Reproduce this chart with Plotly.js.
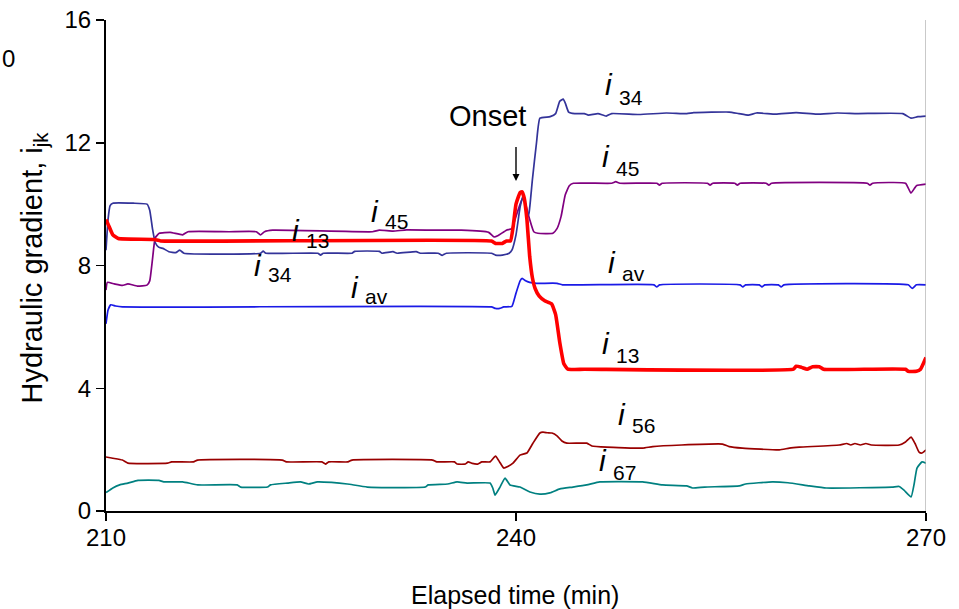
<!DOCTYPE html>
<html>
<head>
<meta charset="utf-8">
<script src="https://cdn.plot.ly/plotly-3.0.1.min.js"></script>
<style>html,body{margin:0;padding:0;background:#fff;}#chart{width:959px;height:609px;}</style>
</head>
<body>
<div id="chart"></div>
<script>
// ---- data (elapsed time in min, hydraulic gradient) ----
const t34 = [210,210.15,210.3,210.5,212,213.0,213.2,213.4,213.6,213.85,214.2,214.6,215.1,215.4,215.7,221.3,221.5,221.7,225.5,225.7,225.9,228.0,228.2,230.0,230.2,231.0,231.3,232.7,233.0,234.3,234.6,234.9,238.2,238.5,239.0,239.5,239.7,240.0,240.3,240.5,240.65,240.8,240.95,241.2,241.5,241.75,242.5,242.9,243.2,243.45,243.6,243.85,244.3,245.0,245.3,246.0,246.6,247.0,249.0,251.0,252.5,253.0,255.6,256.3,257.0,257.6,259.0,260.5,262.0,263.5,265.0,268.3,268.9,269.4,270];
const i34 = [8.5,9.5,9.95,10.03,10.03,10.0,9.8,9.2,8.75,8.6,8.55,8.45,8.42,8.5,8.4,8.4,8.47,8.4,8.4,8.34,8.4,8.4,8.46,8.46,8.4,8.45,8.4,8.45,8.4,8.4,8.33,8.4,8.4,8.34,8.34,8.4,8.5,9.0,9.9,10.25,10.1,9.55,9.7,10.8,12.0,12.8,12.85,12.95,13.35,13.42,13.3,13.0,12.95,12.95,12.9,12.95,12.87,12.95,12.92,12.97,12.95,12.98,13.0,12.95,12.9,12.97,12.93,12.98,12.93,12.97,12.95,12.95,12.8,12.85,12.87];

const t45 = [210,210.1,210.6,211.2,211.6,212.3,213.0,213.2,213.4,213.6,213.9,214.7,215.6,216.0,219.0,221.0,221.3,221.6,222.2,229.5,230.0,231.0,232.0,234.0,236.0,238.0,238.4,238.7,239.3,239.7,240.0,240.3,240.5,240.7,241.0,241.3,241.6,242.7,243.0,243.3,243.6,243.9,244.2,247.0,247.3,247.6,250.3,250.5,250.7,254.0,254.2,254.4,256.0,256.2,256.4,258.3,258.5,258.7,265.7,265.9,266.1,268.5,268.9,269.3,270];
const i45 = [7.2,7.45,7.4,7.35,7.4,7.33,7.36,7.5,8.2,8.9,9.05,9.08,9.0,9.1,9.1,9.1,9.0,9.1,9.15,9.1,9.15,9.12,9.16,9.15,9.15,9.08,8.93,8.98,9.15,9.2,9.6,10.0,10.2,10.0,9.5,9.1,9.05,9.05,9.2,9.6,10.3,10.6,10.68,10.68,10.73,10.68,10.68,10.62,10.68,10.68,10.62,10.68,10.68,10.62,10.68,10.68,10.62,10.68,10.68,10.62,10.68,10.68,10.36,10.6,10.65];

const t13 = [210,210.2,210.5,210.9,213.5,214.0,238.2,238.5,239.0,239.3,239.6,239.8,240.0,240.3,240.45,240.6,240.8,241.0,241.2,241.4,241.7,242.1,242.6,242.9,243.2,243.5,243.8,245.0,260.3,260.5,260.9,261.3,261.7,262.2,262.5,268.5,268.7,269.3,269.6,270];
const i13 = [9.5,9.3,9.0,8.88,8.85,8.8,8.8,8.72,8.72,8.8,8.8,9.3,10.0,10.38,10.4,10.2,9.5,8.3,7.6,7.25,7.0,6.85,6.75,6.4,5.5,4.8,4.62,4.62,4.62,4.72,4.68,4.62,4.7,4.7,4.62,4.62,4.55,4.55,4.62,5.0];

const tav = [210,210.15,210.35,210.7,211.2,238.2,238.5,238.8,239.1,239.7,240.0,240.3,240.45,240.7,241.0,241.5,243.0,243.4,250.1,250.3,250.5,256.4,256.6,256.8,257.8,258.0,258.2,259.2,259.4,259.6,268.7,269.0,269.3,270];
const iav = [6.1,6.55,6.72,6.68,6.65,6.65,6.6,6.6,6.65,6.67,7.1,7.5,7.58,7.5,7.45,7.42,7.42,7.37,7.37,7.3,7.37,7.37,7.3,7.37,7.37,7.3,7.37,7.37,7.3,7.37,7.37,7.25,7.37,7.37];

const t56 = [210,210.5,211.2,211.6,214.5,214.8,216.4,216.7,222.9,223.2,225.8,226.06,226.3,227.7,228.0,233.9,234.2,235.5,235.7,236.3,236.5,236.8,237.2,237.5,238.1,238.5,238.8,239.1,239.4,239.78,240.29,240.8,241.24,241.75,241.97,242.3,242.63,243.0,243.36,243.72,245.18,245.55,246.64,249.27,250.0,252.12,255.11,255.6,256.57,259.27,260.0,260.73,263.65,264.2,264.5,264.8,265.2,265.6,266.0,268.03,268.5,268.91,269.2,269.49,269.71,270];
const i56 = [1.76,1.72,1.66,1.56,1.56,1.6,1.6,1.66,1.66,1.6,1.6,1.53,1.6,1.6,1.66,1.66,1.6,1.6,1.53,1.53,1.6,1.55,1.53,1.6,1.6,1.79,1.6,1.4,1.45,1.56,1.82,1.89,2.21,2.54,2.57,2.55,2.54,2.45,2.28,2.21,2.21,2.12,2.08,2.05,2.1,2.15,2.18,2.1,2.05,1.99,2.05,2.08,2.15,2.2,2.15,2.2,2.15,2.2,2.15,2.15,2.25,2.41,2.2,1.92,1.89,1.99];

const t67 = [210,210.5,211.0,211.6,212.34,213.87,214.23,215.6,216.72,219.6,219.85,221.82,222.04,223.28,224.23,224.82,225.47,226.5,227.66,229.12,233.36,233.58,235.0,235.69,236.42,238.1,238.3,238.47,238.83,239.2,239.56,240.29,241.02,241.75,242.48,243.21,244.16,245.18,246.13,249.27,250.73,252.48,252.92,253.8,256.35,256.8,258.76,259.9,261.46,262.7,267.52,268.03,268.39,268.91,269.12,269.34,269.71,270];
const i67 = [0.6,0.75,0.85,0.91,1.0,1.0,0.95,0.95,0.85,0.85,0.78,0.78,0.85,0.91,0.95,0.88,0.95,0.93,0.88,0.78,0.78,0.85,0.88,0.95,0.91,0.91,0.75,0.52,0.78,1.07,0.85,0.78,0.62,0.55,0.59,0.72,0.78,0.85,0.95,0.95,0.85,0.82,0.75,0.78,0.82,0.88,0.95,0.92,0.82,0.75,0.78,0.8,0.68,0.46,0.85,1.4,1.6,1.56];

const xTicks = [210, 240, 270];
const yTicks = [0, 4, 8, 12, 16];

// label texts (subscripts of the italic "i")
const seriesLabels = {i34:'34', i45:'45', i13:'13', iav:'av', i56:'56', i67:'67'};

// ---- layout geometry ----
const W = 959, H = 609;
const M = {l: 105.5, r: 33, t: 20, b: 98};
const FONT = '"Liberation Sans", Arial, sans-serif';
const pw = W - M.l - M.r, ph = H - M.t - M.b;
const px2x = px => 210 + (px - M.l) * 60 / pw;
const py2y = py => (H - M.b - py) * 16 / ph;

function line(x, y, color, width) {
  return {x: x, y: y, type: 'scatter', mode: 'lines', hoverinfo: 'skip',
          line: {color: color, width: width, shape: 'spline', smoothing: 0.4}};
}
const traces = [
  line(t67, i67, '#008080', 1.7),
  line(t56, i56, '#990000', 1.7),
  line(tav, iav, '#1a1ae6', 1.7),
  line(t45, i45, '#800080', 1.7),
  line(t34, i34, '#333399', 1.7),
  line(t13, i13, '#ff0000', 3.6)
];

// italic "i" plus a separate subscript annotation
function lab(key, px, pyI, pyS) {
  return [
    {xref: 'x', yref: 'y', x: px2x(px - 3), y: py2y(pyI), xanchor: 'left', yanchor: 'middle',
     showarrow: false, text: '<i>i</i>', font: {family: FONT, size: 30, color: '#000'}},
    {xref: 'x', yref: 'y', x: px2x(px + 11), y: py2y(pyS), xanchor: 'left', yanchor: 'middle',
     showarrow: false, text: seriesLabels[key], font: {family: FONT, size: 21, color: '#000'}}
  ];
}
const annotations = [].concat(
  lab('i34', 606, 84, 97), lab('i45', 603, 156, 168), lab('iav', 609, 262, 273),
  lab('i13', 603, 343, 355), lab('i56', 619, 414, 425), lab('i67', 600, 460, 472),
  lab('i45', 372, 211, 221), lab('i13', 293, 230, 240), lab('i34', 255, 265, 274),
  lab('iav', 352, 287, 296),
  [
  {xref: 'x', yref: 'y', x: px2x(487), y: py2y(116), showarrow: false, text: 'Onset',
   font: {family: FONT, size: 29, color: '#000'}},
  {xref: 'x', yref: 'y', x: 240, y: py2y(181), ax: 0, ay: -49, text: ' ', showarrow: true,
   arrowhead: 2, arrowsize: 1, arrowwidth: 1.4, arrowcolor: '#000'},
  {xref: 'paper', yref: 'paper', x: -(M.l - 33) / pw, y: (H - M.b - 268) / ph, textangle: -90,
   showarrow: false, text: 'Hydraulic gradient, i<sub>jk</sub>', xanchor: 'center', yanchor: 'middle',
   font: {family: FONT, size: 29, color: '#000'}},
  {xref: 'paper', yref: 'paper', x: (515 - M.l) / pw, y: -(595 - (H - M.b)) / ph, showarrow: false,
   text: 'Elapsed time (min)', xanchor: 'center', yanchor: 'middle',
   font: {family: FONT, size: 25, color: '#000'}},
  {xref: 'paper', yref: 'paper', x: -(M.l - 8) / pw, y: (H - M.b - 58) / ph, showarrow: false,
   text: '0', xanchor: 'center', yanchor: 'middle', font: {family: FONT, size: 24, color: '#000'}}
  ]
);

const layout = {
  width: W, height: H,
  margin: M,
  paper_bgcolor: '#fff', plot_bgcolor: '#fff',
  showlegend: false,
  font: {family: FONT, size: 24, color: '#000'},
  xaxis: {range: [210, 270], tickvals: xTicks, ticktext: xTicks.map(String), showgrid: false, zeroline: false,
          showline: true, linecolor: '#000', linewidth: 2, ticks: 'outside', ticklen: 8, tickwidth: 1.5,
          tickcolor: '#000', ticklabelstandoff: -4,
          tickfont: {family: FONT, size: 24, color: '#000'}, fixedrange: true},
  yaxis: {range: [0, 16], tickvals: yTicks, ticktext: yTicks.map(String), showgrid: false, zeroline: false,
          showline: true, linecolor: '#000', linewidth: 2, ticks: 'outside', ticklen: 8, tickwidth: 1.5,
          tickcolor: '#000', tickfont: {family: FONT, size: 24, color: '#000'}, fixedrange: true},
  shapes: [{type: 'line', xref: 'x', yref: 'y', x0: 270, x1: 270, y0: 0, y1: 16,
            line: {color: '#a6a6a6', width: 1.2}}],
  annotations: annotations
};

Plotly.newPlot('chart', traces, layout, {displayModeBar: false, staticPlot: true});
</script>
</body>
</html>
